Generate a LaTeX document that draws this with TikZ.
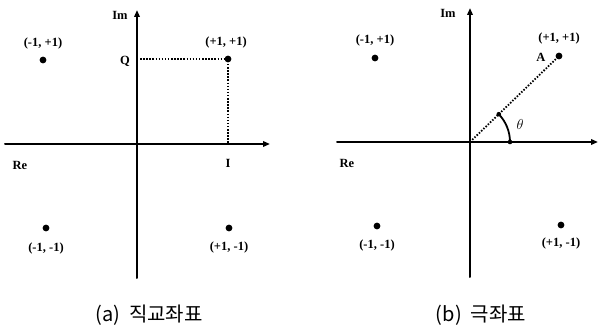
\documentclass[tikz,border=0pt]{standalone}
\usepackage{fontspec}
\setmainfont{Liberation Serif}
\newfontfamily\korfont{Noto Sans CJK KR}
\usetikzlibrary{arrows.meta}

\begin{document}
\begin{tikzpicture}[x=1pt, y=1pt, line cap=round, line join=round,
    axis/.style={line width=2pt, -{Triangle[length=7pt, width=5.5pt]}},
    guide/.style={line width=1.8pt, dash pattern=on 1.5pt off 1.6pt, line cap=butt},
    lbl/.style={font=\bfseries\fontsize{12.5}{12.5}\selectfont, inner sep=0pt},
    capt/.style={font=\korfont\fontsize{20}{20}\selectfont, inner sep=0pt}]
  \useasboundingbox (0,0) rectangle (600,332);
  \def\rdot{3.4}

  % (a) 직교좌표
  \coordinate (Oa) at (137,188);
  \coordinate (Rea) at (5,188);
  \coordinate (Ima) at (137,54);
  \draw[axis] (Rea) -- (270,188) coordinate (Ea);
  \draw[axis] (Ima) -- (137,322) coordinate (Na);

  \coordinate (Pa11) at (228,273);
  \coordinate (Pa01) at (43,272);
  \coordinate (Pa00) at (46,104);
  \coordinate (Pa10) at (229,104);
  \coordinate (Qa) at (140,273);
  \coordinate (Ia) at (228,188);
  \foreach \p in {Pa11,Pa01,Pa00,Pa10} \fill (\p) circle (\rdot);

  % projections
  \draw[guide] (Qa) -- (Pa11) -- (Ia);

  \node[lbl] (la01) at (43,289) {(-1, +1)};
  \node[lbl] (la11) at (226,290) {(+1, +1)};
  \node[lbl] (la00) at (46,84) {(-1, -1)};
  \node[lbl] (la10) at (229,85) {(+1, -1)};
  \node[lbl] (lq) at (125,271) {Q};
  \node[lbl] (li) at (228,169) {I};
  \node[lbl] (lrea) at (20,167) {Re};
  \node[lbl] (lima) at (120,317) {Im};
  \node[capt] (capa) at (149,17) {(a)\ \ 직교좌표};

  % (b) 극좌표
  \coordinate (Ob) at (470,190);
  \coordinate (Reb) at (337,190);
  \coordinate (Imb) at (470,55);
  \draw[axis] (Reb) -- (598,190) coordinate (Eb);
  \draw[axis] (Imb) -- (470,324) coordinate (Nb);

  \coordinate (Pb11) at (559,276);
  \coordinate (Pb01) at (375,274);
  \coordinate (Pb00) at (377,106);
  \coordinate (Pb10) at (561,107);
  \foreach \p in {Pb11,Pb01,Pb00,Pb10} \fill (\p) circle (\rdot);

  % vector and angle
  \draw[guide] (Ob) -- (Pb11);
  \draw[line width=1.8pt] (Ob) ++(0:40) arc (0:44:40);
  \fill (Ob) ++(0:40) circle (2.3);
  \fill (Ob) ++(44:40) circle (2.3);

  \node[lbl] (lb01) at (375,292) {(-1, +1)};
  \node[lbl] (lb11) at (559,294) {(+1, +1)};
  \node[lbl] (lb00) at (377,87) {(-1, -1)};
  \node[lbl] (lb10) at (561,89) {(+1, -1)};
  \node[lbl] (la) at (541,275) {A};
  \node[font=\fontsize{14}{14}\selectfont, inner sep=0pt] (lth) at (520,207) {$\theta$};
  \node[lbl] (lreb) at (347,169) {Re};
  \node[lbl] (limb) at (448,319) {Im};
  \node[capt] (capb) at (481,17) {(b)\ \ 극좌표};
\end{tikzpicture}
\end{document}
